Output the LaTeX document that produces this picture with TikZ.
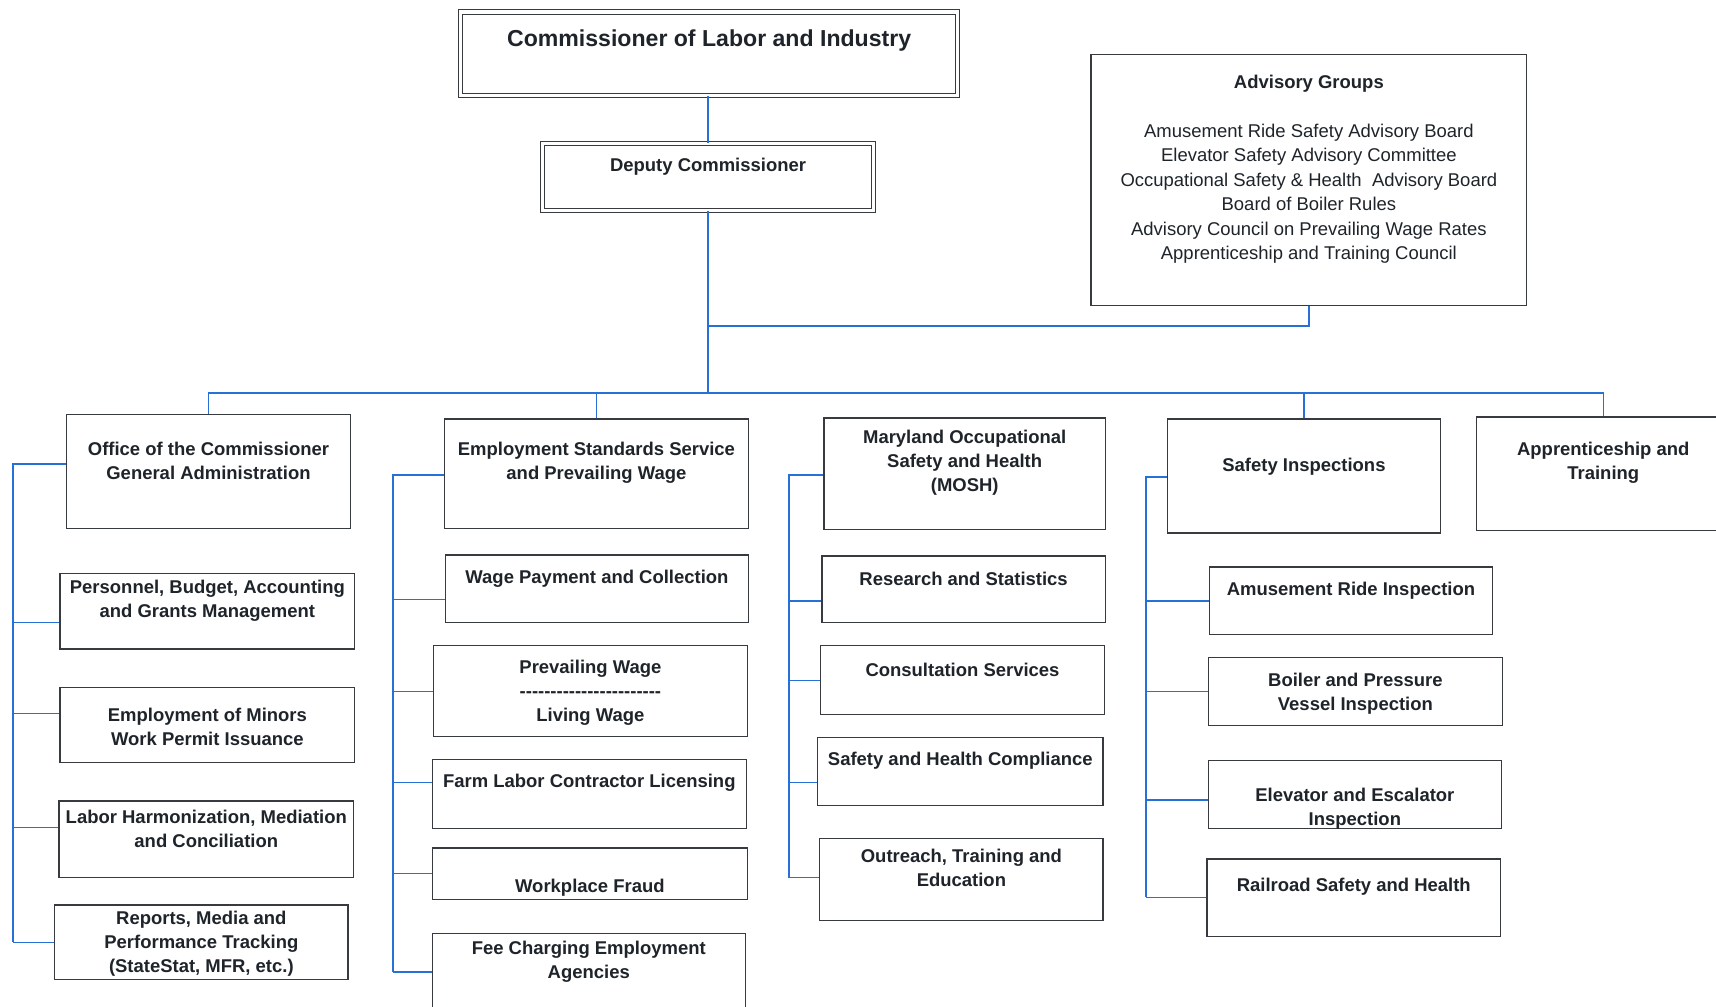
\documentclass[tikz,border=0pt]{standalone}
\usepackage{fontspec}
\setmainfont{Liberation Sans}
\usetikzlibrary{fit}
\definecolor{linkblue}{RGB}{38, 112, 214}
\definecolor{boxline}{RGB}{55, 58, 62}
\definecolor{ink}{RGB}{30, 36, 42}

\begin{document}
\begin{tikzpicture}[x=0.025cm, y=-0.025cm,
  unit/.style={draw=boxline, line width=0.9pt, inner sep=0pt},
  headunit/.style={draw=boxline, line width=0.7pt, double, double distance=2pt, inner sep=0pt},
  utext/.style={font=\fontsize{12}{15.6}\selectfont\bfseries, text=ink, align=center, inner sep=0pt, yshift=-1.5pt},
  link/.style={draw=linkblue, line width=0.9pt}]
\useasboundingbox (0,0) rectangle (1568,920);
\clip (0,0) rectangle (1568,920);
\fill[white] (0,0) rectangle (1568,920);

% Commissioner and deputy
\node[headunit, fit={(421,11) (875,87)}] (comm) {};
\node[utext, font=\fontsize{15}{18}\selectfont\bfseries] (comm-t) at (648,35) {Commissioner of Labor and Industry};
\node[headunit, fit={(496,131) (798,192)}] (dep) {};
\node[utext] (dep-t) at (647,150) {Deputy Commissioner};

% Advisory groups
\node[unit, fit={(997,50) (1395,279)}] (adv) {};
\node[utext] (adv-h) at (1196,74) {Advisory Groups};
\node[utext, font=\fontsize{12}{15.9}\selectfont] (adv-t) at (1196,175) {Amusement Ride Safety Advisory Board\\
  Elevator Safety Advisory Committee\\
  Occupational Safety \& Health~ Advisory Board\\
  Board of Boiler Rules\\
  Advisory Council on Prevailing Wage Rates\\
  Apprenticeship and Training Council};

% Divisions
\foreach \n/\xa/\ya/\xb/\yb/\ty/\txt in {
  office/61/379/320/483/419/{Office of the Commissioner\\General Administration},
  ess/406/383/684/483/421/{Employment Standards Service\\and Prevailing Wage},
  mosh/753/382/1010/484/421/{Maryland Occupational\\Safety and Health\\(MOSH)},
  insp/1067/383/1316/487/424/{Safety Inspections},
  appr/1349/381/1581/485/421/{Apprenticeship and\\Training}}{
  \node[unit, fit={(\xa,\ya) (\xb,\yb)}] (\n) {};
  \node[utext] (\n-t) at (\n.center |- 0,\ty) {\txt};
}

% Chain of command
\coordinate (bus) at (647,359);
\coordinate (advj) at (647,298);
\draw[link] (dep.north |- comm.south) -- (dep.north);
\draw[link] (dep.south) -- (bus);
\draw[link] (adv.south) |- (advj);
\draw[link] (office.north) |- (bus) -| (appr.north);
\draw[link] (ess.north) -- (ess.north |- bus);
\draw[link] (insp.north) -- (insp.north |- bus);

% Office of the Commissioner units
\coordinate (spine1) at (12,861);
\draw[link] (office.west |- 0,424) -| (spine1);
\foreach \n/\xa/\ya/\xb/\yb/\ty/\cy/\txt in {
  pers/55/524/324/593/547/569/{Personnel, Budget, Accounting\\and Grants Management},
  minors/55/628/324/697/662/652/{Employment of Minors\\Work Permit Issuance},
  labor/54/732/323/802/755/756/{Labor Harmonization, Mediation\\and Conciliation},
  reports/50/827/318/895/860/861/{Reports, Media and\\Performance Tracking\\(StateStat, MFR, etc.)}}{
  \node[unit, fit={(\xa,\ya) (\xb,\yb)}] (\n) {};
  \node[utext] (\n-t) at (\n.center |- 0,\ty) {\txt};
  \draw[link] (\n.west |- 0,\cy) -- (spine1 |- 0,\cy);
}

% Employment Standards units
\coordinate (spine2) at (359,888);
\draw[link] (ess.west |- 0,434) -| (spine2);
\foreach \n/\xa/\ya/\xb/\yb/\ty/\cy/\txt in {
  wage/407/507/684/569/527/548/{Wage Payment and Collection},
  prev/396/590/683/673/631/632/{Prevailing Wage\\-{}-{}-{}-{}-{}-{}-{}-{}-{}-{}-{}-{}-{}-{}-{}-{}-{}-{}-{}-{}-{}-{}-\\Living Wage},
  farm/395/694/682/757/713/715/{Farm Labor Contractor Licensing},
  fraud/395/775/683/822/809/798/{Workplace Fraud},
  fee/395/853/681/950/877/888/{Fee Charging Employment\\Agencies}}{
  \node[unit, fit={(\xa,\ya) (\xb,\yb)}] (\n) {};
  \node[utext] (\n-t) at (\n.center |- 0,\ty) {\txt};
  \draw[link] (\n.west |- 0,\cy) -- (spine2 |- 0,\cy);
}

% MOSH units
\coordinate (spine3) at (721,802);
\draw[link] (mosh.west |- 0,434) -| (spine3);
\foreach \n/\xa/\ya/\xb/\yb/\ty/\cy/\txt in {
  research/751/508/1010/569/527/549/{Research and Statistics},
  consult/750/590/1009/653/610/622/{Consultation Services},
  comply/747/674/1008/736/693/715/{Safety and Health Compliance},
  outreach/749/766/1008/841/791/802/{Outreach, Training and\\Education}}{
  \node[unit, fit={(\xa,\ya) (\xb,\yb)}] (\n) {};
  \node[utext] (\n-t) at (\n.center |- 0,\ty) {\txt};
  \draw[link] (\n.west |- 0,\cy) -- (spine3 |- 0,\cy);
}

% Safety Inspections units
\coordinate (spine4) at (1047,820);
\draw[link] (insp.west |- 0,436) -| (spine4);
\foreach \n/\xa/\ya/\xb/\yb/\ty/\cy/\txt in {
  amuse/1105/518/1364/580/538/549/{Amusement Ride Inspection},
  boiler/1104/601/1373/663/632/632/{Boiler and Pressure\\Vessel Inspection},
  elev/1104/695/1372/757/737/731/{Elevator and Escalator\\Inspection},
  rail/1103/785/1371/856/808/820/{Railroad Safety and Health}}{
  \node[unit, fit={(\xa,\ya) (\xb,\yb)}] (\n) {};
  \node[utext] (\n-t) at (\n.center |- 0,\ty) {\txt};
  \draw[link] (\n.west |- 0,\cy) -- (spine4 |- 0,\cy);
}
\end{tikzpicture}
\end{document}
